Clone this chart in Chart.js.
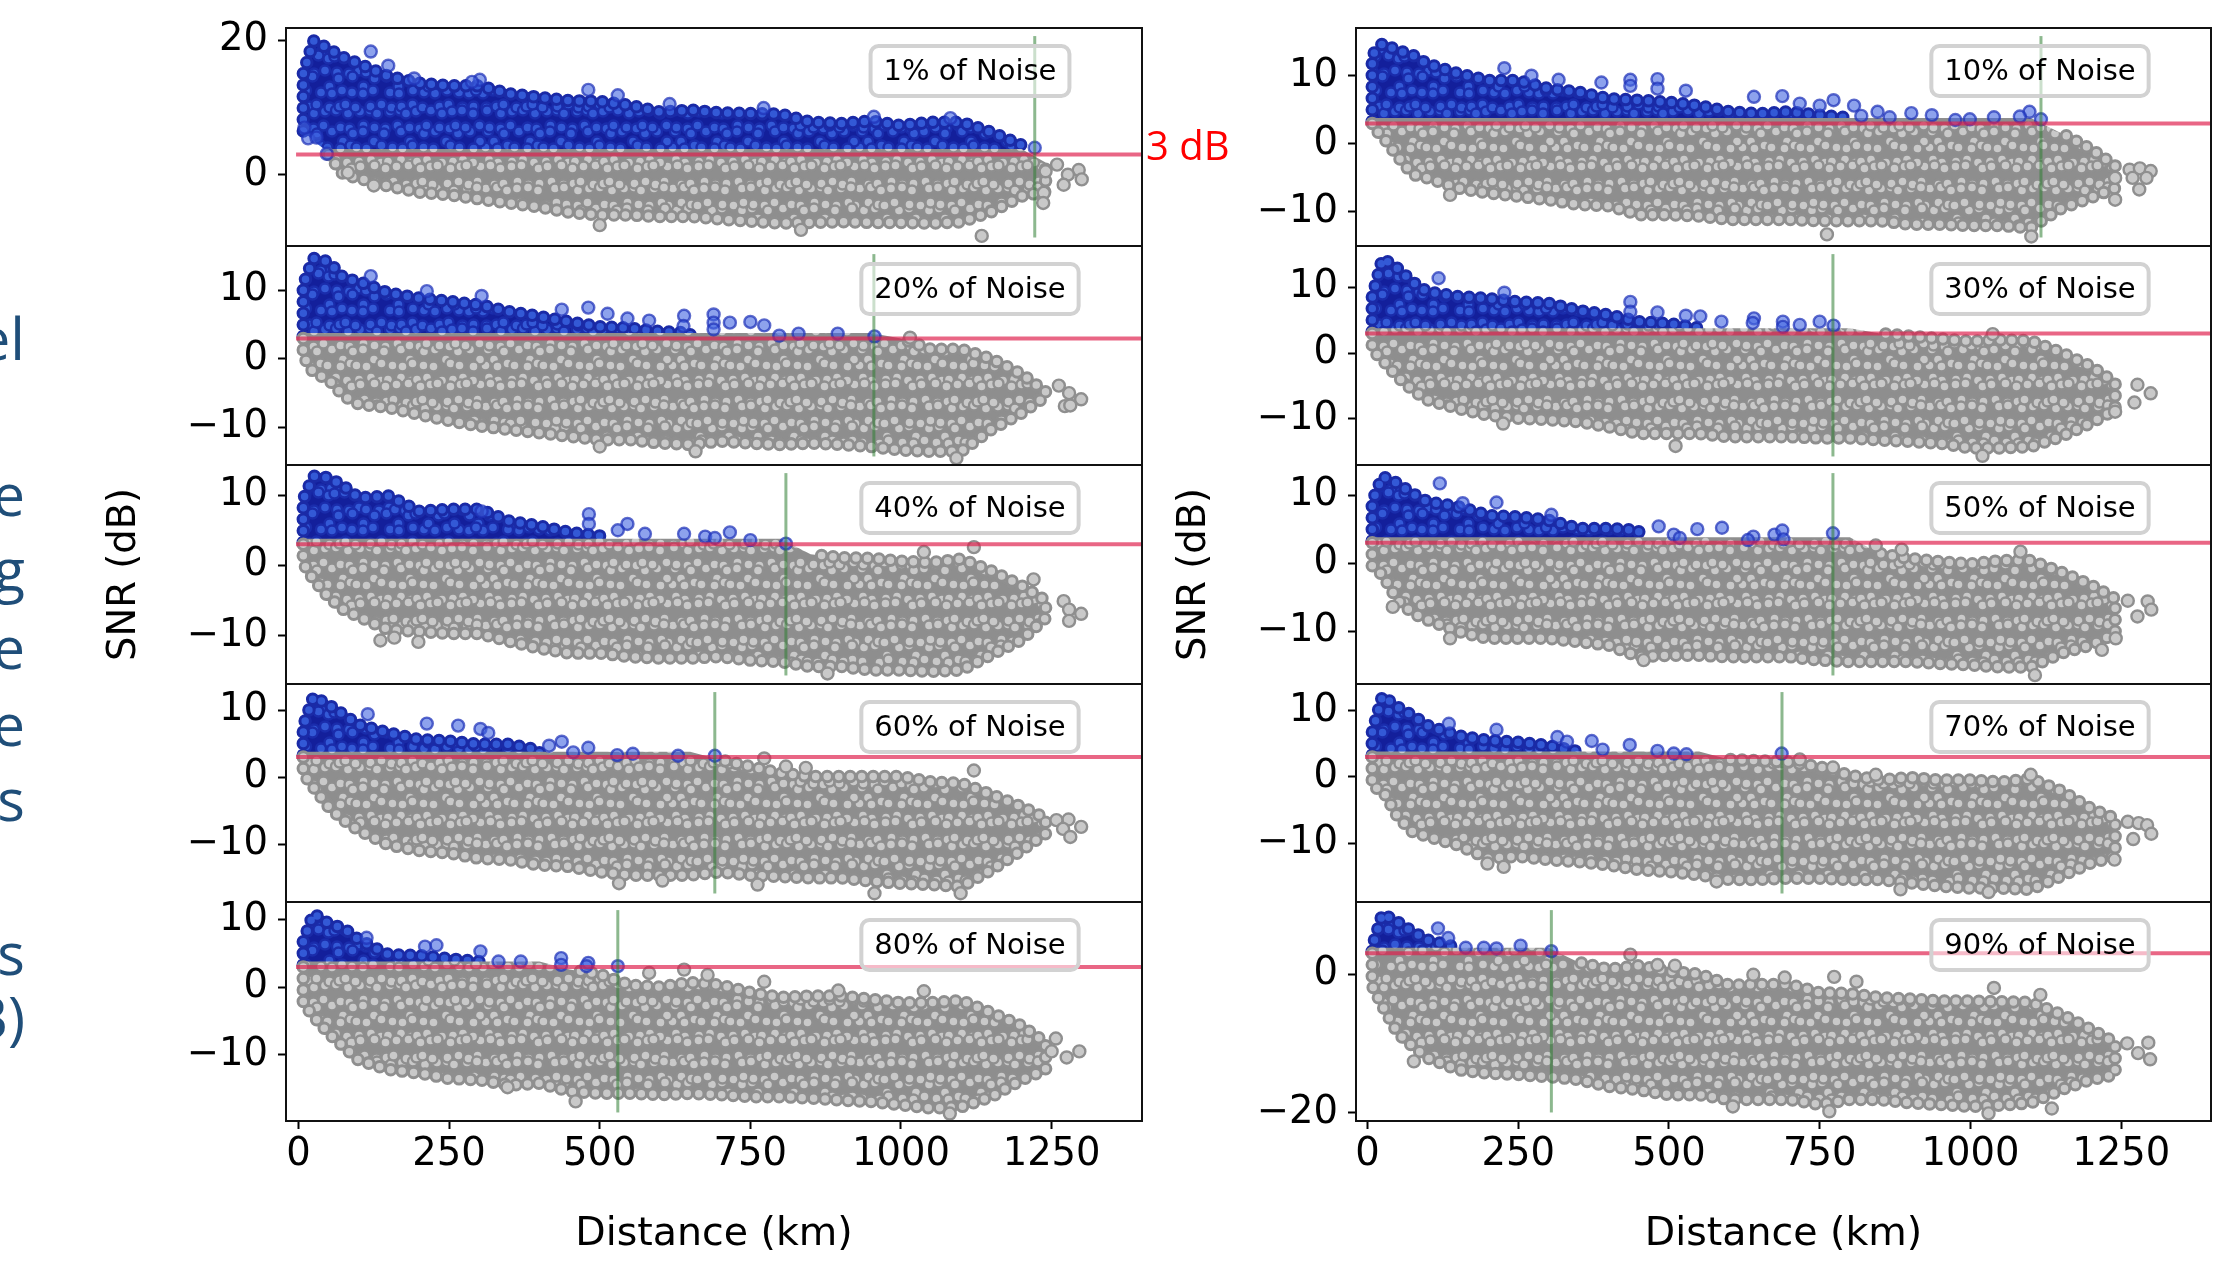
<!DOCTYPE html>
<html><head><meta charset="utf-8">
<style>
html,body{margin:0;padding:0;background:#fff;width:2225px;height:1272px;overflow:hidden}
canvas{position:absolute;display:block}
.frag{position:absolute;left:-175px;width:200px;text-align:right;font-family:"Open Sans";font-size:58px;line-height:70px;color:#1f4e79;white-space:nowrap}
</style>
<script src="https://cdn.jsdelivr.net/npm/chart.js@4"></script>
</head><body>
<div class="frag" style="top:303px">el</div>
<div class="frag" style="top:459px">e</div>
<div class="frag" style="top:534px">g</div>
<div class="frag" style="top:612px">e</div>
<div class="frag" style="top:689px">e</div>
<div class="frag" style="top:764px">s</div>
<div class="frag" style="top:918px">'s</div>
<div class="frag" style="top:982px">dB)</div>
<script>
const DISTANCE_TICKS=[0,250,500,750,1000,1250];
const THRESHOLD_DB=3;
const BLUE_FLOOR=3.3;
const KM=[8,25,50,75,100,150,200,250,300,350,400,450,500,550,600,650,700,750,800,850,900,950,1000,1050,1100,1150,1200,1240];
const KM_FROM_50=[50,75,100,150,200,250,300,350,400,450,500,550,600,650,700,750,800,850,900,950,1000,1050,1100,1150,1200,1240];

const labels=["1% of Noise","20% of Noise","40% of Noise","60% of Noise","80% of Noise","10% of Noise","30% of Noise","50% of Noise","70% of Noise","90% of Noise"];
const yMin=[-10.6,-15.5,-16.9,-18.6,-19.8,-15,-17,-17.7,-18.9,-21.2];
const yMax=[21.8,16.5,14.3,13.9,12.6,17,16.3,14.4,14,10.4];
const yTicks=[[0,20],[-10,0,10],[-10,0,10],[-10,0,10],[-10,0,10],[-10,0,10],[-10,0,10],[-10,0,10],[-10,0,10],[-20,0]];
const reachKm=[1222,955,809,691,530,1117,772,772,687.5,305];

const grayLow1=[3,0,-0.5,-1.7,-2.6,-3,-3.6,-4.2,-4.8,-5.6,-6,-6,-6.2,-6.2,-6.6,-6.9,-7.2,-7.1,-7,-7.1,-7.1,-7.2,-7,-5.5,-3.2,-2.5];
const grayHigh1=[3.8,3.8,3.8,3.8,3.8,3.8,3.8,3.8,3.8,3.8,3.8,3.8,3.8,3.8,3.8,3.8,3.8,3.8,3.8,3.8,3.8,3.8,3.8,3.8,3.8,1.8];
const blueHigh1=[15,19.9,18.7,17.4,16.5,14.6,13.6,13.2,13.2,12,11.5,11,10.9,10.3,9.3,9.6,9.2,9.1,9,7.8,7.6,8,7.3,7.8,7.8,6.3,4.4];
const blueLow1=[6.5,5];
const blueExtra1=[[120,18.3],[149,16.2],[192,14.3],[301,14.1],[288,13.8],[481,12.6],[530,11.8],[616,10.5],[16,5.4],[47,3.1],[772,9.9],[955,8.6],[1082,8.4],[1222,4],[10,7],[30,5.5]];
const grayExtra1=[[1259,1.5],[1295,0.7],[1300,-0.7],[1277,0],[1270,-1.5],[1237,-2.7],[1236,-4.2],[1134,-9.1],[834,-8.2],[500,-7.5],[125,-1.6],[82,0.3],[1240,0.5]];

const grayLow10=[2.5,1.1,-1.8,-4.5,-5,-6.5,-7.2,-7.7,-8.2,-8.9,-9.1,-10.4,-10.4,-10.6,-11.1,-11.1,-11.1,-11.3,-11.3,-11.3,-11.8,-11.8,-12,-12,-12.3,-9.5,-7.9,-6.5];
const grayHigh10=[3.8,3.8,3.8,3.8,3.8,3.8,3.8,3.8,3.8,3.8,3.8,3.8,3.8,3.8,3.8,3.8,3.8,3.8,3.8,3.8,3.8,3.8,3.8,3.8,3.8,1.6,-0.8,-3.2];
const blueHigh10=[13,14.7,13.7,13,11.7,10.3,9.3,9.3,8.1,7.6,6.6,6.4,6.1,5.6,4.7,4.4,4.7,4.2,3.8];
const blueExtra10=[[227,11.1],[272,10],[317,9.4],[388,9],[436,9.4],[436,8.5],[481,9.5],[481,8.1],[528,7.8],[641,6.9],[688,7],[717,5.9],[750,5.6],[773,6.4],[807,5.6],[846,4.7],[902,4.5],[936,4.2],[999,3.6],[1039,3.9],[1098,4.7],[1082,4],[1117,3.6],[975,3.5],[866,3.9],[819,4.1]];
const grayExtra10=[[1264,-3.8],[1281,-3.6],[1299,-4],[1292,-5],[1269,-5],[1280,-6.7],[1240,-8.2],[762,-13.3],[1101,-13.6],[137,-7.5],[1240,-5]];

const grayLow20=[0.4,-2,-3,-5.4,-6.6,-7.1,-8.1,-9,-9.8,-10.3,-10.8,-11.3,-11.8,-11.8,-12.3,-12.5,-12,-12.3,-12.5,-12.3,-12.5,-12.8,-13.3,-13.5,-13.5,-10.3,-7.9,-5.5];
const grayHigh20=[3.8,3.8,3.8,3.8,3.8,3.8,3.8,3.8,3.8,3.8,3.8,3.8,3.8,3.8,3.8,3.8,3.8,3.8,3.8,3.8,3.8,3.8,3,1.4,1.4,0,-2.2,-4.8];
const blueHigh20=[10.8,14.7,14.2,11.8,11.3,9.6,8.9,8.4,7.9,6.9,6.2,5.4,4.7,4.5,4,3.8];
const blueExtra20=[[120,12.1],[213,9.9],[304,9.2],[437,7.2],[481,7.5],[513,6.6],[546,5.9],[582,5.6],[640,6.3],[689,6.5],[689,5.3],[716,5.3],[750,5.4],[773,4.9],[798,3.4],[830,3.7],[895,3.7],[956,3.3],[689,4.3],[639,4.8]];
const grayExtra20=[[1262,-3.9],[1279,-5],[1299,-5.9],[1272,-6.9],[1281,-6.8],[1015,3.1],[659,-13.5],[500,-12.8],[1092,-14.5]];

const grayLow30=[0.5,-1,-3.6,-5.6,-7.1,-8.4,-9.4,-9.9,-10.1,-10.4,-11.2,-12.2,-12.2,-12.2,-12.7,-12.7,-12.7,-12.9,-12.9,-13.2,-13.4,-13.7,-14.4,-14.4,-14.2,-12.7,-10.6,-8.6];
const grayHigh30=[3.8,3.8,3.8,3.8,3.8,3.8,3.8,3.8,3.8,3.8,3.8,3.8,3.8,3.8,3.8,3.8,3.8,3.8,3.8,3,2.6,2.2,1.8,2,1.9,0.1,-2,-4.5];
const blueHigh30=[8.5,14.4,12.9,10.8,9.3,8.6,8.3,7.8,7.6,6.5,5.8,4.8,4.5,3.8];
const blueExtra30=[[436,7.8],[436,6.3],[481,6.2],[528,5.7],[552,5.6],[587,4.8],[641,5.3],[689,4.8],[717,4.3],[750,4.8],[773,4.2],[639,4.6],[689,4],[118,11.4],[227,9.2]];
const grayExtra30=[[1277,-4.8],[1299,-6.1],[1272,-7.5],[1240,-8.9],[511,-14.1],[225,-10.7],[1020,-15.6],[1037,2.9]];

const grayLow40=[0.3,-2,-4.5,-6.3,-7.3,-9.2,-9.4,-9.7,-9.7,-10.8,-11.8,-12.5,-12.5,-13,-13.2,-13.2,-13,-13.5,-13.7,-14.4,-14.4,-14.9,-14.9,-15.1,-14.9,-12.7,-10.6,-7.5];
const grayHigh40=[3.8,3.8,3.8,3.8,3.8,3.8,3.8,3.8,3.8,3.8,3.8,3.8,3.8,3.8,3.8,3.8,3.8,3.8,3.8,1.6,1.1,1,0.6,0.4,0.9,-0.8,-2.9,-5];
const blueHigh40=[9.4,12.7,12.5,11.3,9.6,9.9,7.7,8,8,6.3,5.6,4.7,4.2];
const blueExtra40=[[304,7.7],[482,7.3],[482,5.9],[546,5.9],[530,5],[575,4.5],[640,4.5],[675,4.1],[691,3.9],[716,4.7],[750,3.6],[809,3.1]];
const grayExtra40=[[1270,-5.1],[1279,-6.3],[1299,-6.9],[1279,-7.9],[878,-15.4],[136,-10.7],[159,-10.3],[199,-10.9],[1121,2.6],[1038,1.9],[1220,-2]];

const grayLow50=[-0.5,-1.7,-5.4,-7.3,-8.3,-10,-11,-11,-11,-11.5,-12,-13.7,-13.5,-13.5,-13.7,-13.7,-13.7,-14.2,-14.4,-14.4,-14.4,-14.7,-14.9,-15.2,-15.2,-13.2,-12,-10.3];
const grayHigh50=[3.8,3.8,3.8,3.8,3.8,3.8,3.8,3.8,3.8,3.8,3.8,3.8,3.8,3.8,3.8,3.8,3.8,3.8,3.8,1.4,0.7,0.2,-0.1,0.4,0.4,-1.3,-3.2,-5.2];
const blueHigh50=[9,12.7,11.7,10.2,9,8.3,7,6.8,6.3,5.1,5.1,4.8];
const blueExtra50=[[120,11.7],[214,8.9],[158,8.8],[305,7.1],[483,5.4],[547,5],[588,5.2],[508,4.2],[640,3.9],[675,4.2],[688,4.8],[690,3.5],[772,4.4],[518,3.7],[631,3.4]];
const grayExtra50=[[1261,-5.5],[1294,-5.6],[1300,-6.8],[1277,-7.8],[1241,-11],[1218,-12.7],[137,-11],[42,-6.4],[886,2],[843,2.6],[1083,1.7],[458,-14.2],[1107,-16.4]];

const grayLow60=[0.5,-1.5,-4.4,-6.4,-7.9,-10.1,-10.9,-11.3,-12.1,-12.3,-13.1,-13.3,-14.1,-14.6,-14.6,-14.6,-14.1,-14.6,-14.8,-15,-15,-15.5,-15.8,-16,-16.3,-13.8,-10.9,-8.4];
const grayHigh60=[3.8,3.8,3.8,3.8,3.8,3.8,3.8,3.8,3.8,3.8,3.8,3.8,3.8,3.8,3.8,3.8,2.6,1.6,0.6,0.1,0.1,0.1,0.1,-0.7,-0.9,-2.6,-4.4,-6.1];
const blueHigh60=[7.6,12,10.8,9.3,7.8,6.6,5.6,5.4,4.9,4.9,4];
const blueExtra60=[[115,9.4],[213,8],[265,7.7],[302,7.2],[315,6.6],[437,5.3],[416,4.7],[481,4.4],[456,3.7],[529,3.3],[555,3.5],[630,3.2],[691,3.2]];
const grayExtra60=[[1278,-6.3],[1258,-6.4],[1299,-7.4],[1269,-7.7],[1281,-8.9],[773,2.8],[809,1.6],[842,1.4],[1121,1],[956,-17.3],[532,-15.8],[604,-15.4],[1099,-17.3],[762,-16]];

const grayLow70=[-1.5,-2,-6,-8.3,-9,-10.3,-12.3,-12,-12.5,-12.8,-13.3,-14,-14.3,-14.8,-15.5,-15.5,-15.3,-15.3,-15.5,-15.5,-16,-16.5,-16.8,-16.8,-17,-15,-13,-12];
const grayHigh70=[3.8,3.8,3.8,3.8,3.8,3.8,3.8,3.8,3.8,3.8,3.8,3.8,3.8,3.8,2.6,2.4,2.2,1.5,0.2,-0.5,-0.1,-0.5,-0.5,-0.8,-0.3,-2.1,-4.8,-6.3];
const blueHigh70=[6.7,12.2,10.5,9.2,7.7,6.2,5.5,5.2,4.7,3.8];
const blueExtra70=[[135,8],[214,7.1],[315,6],[331,5.3],[372,5.4],[435,4.8],[390,4.1],[481,3.9],[508,3.5],[529,3.4],[687,3.5]];
const grayExtra70=[[1261,-6.8],[1279,-7],[1293,-7.3],[1300,-8.6],[1270,-9.4],[1239,-12.5],[717,2.6],[772,1.4],[843,0.3],[1100,0.3],[884,-17],[199,-13.1],[226,-13.6],[1030,-17.4],[579,-15.8]];

const grayLow80=[-2.4,-4.3,-6.8,-8.8,-10.8,-12.2,-12.7,-13.5,-13.7,-14.5,-14.2,-15.4,-15.7,-15.7,-15.9,-15.7,-15.9,-16.2,-16.2,-16.4,-16.7,-16.9,-17.4,-17.9,-17.7,-16.2,-13.7,-12.2];
const grayHigh80=[3.8,3.8,3.8,3.8,3.8,3.8,3.8,3.8,3.8,3.8,3.8,2.6,1.9,0.3,0,0.7,0.3,-0.8,-1.5,-1.3,-1.3,-1.8,-2.3,-2.3,-2,-3.8,-5.7,-8.2];
const blueHigh80=[6.7,10.9,9.4,8.7,7,4.8,4.7,4.2,3.8];
const blueExtra80=[[113,7.3],[210,6],[229,6.2],[302,5.3],[332,3.8],[369,3.8],[436,4.3],[481,3.6],[530,3.1],[436,3.3],[478,3.1]];
const grayExtra80=[[1257,-7.6],[1296,-9.5],[1275,-10.4],[1250,-9.5],[582,2.1],[640,2.6],[679,1.8],[773,0.8],[1038,-0.6],[460,-16.9],[1081,-18.7],[347,-14.8],[896,-0.5]];

const grayLow90=[-1.7,-4.6,-8.5,-10.4,-12.1,-13.8,-14.3,-14.5,-14.8,-15.2,-16.2,-16.7,-17.4,-17.4,-18.1,-18.1,-18.1,-18.8,-18.1,-18.1,-18.6,-18.8,-19.1,-18.9,-18.6,-16.7,-15.2,-14.5];
const grayHigh90=[3.8,3.8,3.8,3.8,3.8,3.8,3.8,3.8,3.8,1.7,0.7,1.2,0.4,0,-1.6,-1.5,-1.5,-2.7,-2.8,-3.4,-3.6,-3.9,-3.9,-4,-4.1,-5.8,-8,-9.9];
const blueHigh90=[3.9,8.7,7.5,6.1,4.9,3.8];
const blueExtra90=[[117,6.6],[134,5.2],[163,3.8],[193,3.8],[214,3.7],[254,4.1],[305,3.3]];
const grayExtra90=[[436,2.8],[481,1.3],[510,1.2],[640,-0.1],[692,-0.5],[774,-0.4],[811,-1.1],[1039,-2],[1116,-3],[1260,-10],[1295,-9.9],[1278,-11.4],[1298,-12.3],[77,-12.6],[766,-19.8],[1030,-20.1],[1135,-19.4],[606,-19.1]];

const grayKm=[KM_FROM_50,KM,KM,KM,KM,KM,KM,KM,KM,KM];
const grayLows=[grayLow1,grayLow20,grayLow40,grayLow60,grayLow80,grayLow10,grayLow30,grayLow50,grayLow70,grayLow90];
const grayHighs=[grayHigh1,grayHigh20,grayHigh40,grayHigh60,grayHigh80,grayHigh10,grayHigh30,grayHigh50,grayHigh70,grayHigh90];
const blueHighs=[blueHigh1,blueHigh20,blueHigh40,blueHigh60,blueHigh80,blueHigh10,blueHigh30,blueHigh50,blueHigh70,blueHigh90];
const blueLows=[blueLow1,[],[],[],[],[],[],[],[],[]];
const blueExtras=[blueExtra1,blueExtra20,blueExtra40,blueExtra60,blueExtra80,blueExtra10,blueExtra30,blueExtra50,blueExtra70,blueExtra90];
const grayExtras=[grayExtra1,grayExtra20,grayExtra40,grayExtra60,grayExtra80,grayExtra10,grayExtra30,grayExtra50,grayExtra70,grayExtra90];

/* layout (style only) */
const TOPS=[28,246,465,684,902], BOTTOM=1121;
const COLS=[{left:102,plotLeft:286,width:1140,padRight:100,xMin:-20.7,xMax:1400,boxCx:970},
            {left:1172,plotLeft:1356,width:1053,padRight:14,xMin:-19,xMax:1399,boxCx:2040}];
const PAD=40, X_AXIS_H=137;
const FONT="'DejaVu Sans'";

/* marker texture: fixed offsets, purely a fill style for the dense clouds */
const JX=[-4,1,3,-1,4,-3,0,2,-4,3,-1,5,-3,2,0,-5,3,-2,4];
const JY=[1,-4,2,-3,0,4,-1,3,-5,1,3,-3,0,5,-2];
function texture(base,ring,core,r){
  const S=187,N=17,c=document.createElement('canvas');c.width=c.height=S;
  const g=c.getContext('2d');g.fillStyle=base;g.fillRect(0,0,S,S);
  const step=S/N;
  for(let a=0;a<N;a++)for(let b=0;b<N;b++){
    const x=(a+.5)*step+(b%2?step*.5:0)+JX[(a*7+b*3)%JX.length],y=(b+.5)*step+JY[(a*5+b*11)%JY.length];
    for(const dx of [-S,0,S])for(const dy of [-S,0,S]){
      g.beginPath();g.arc(x+dx,y+dy,r,0,Math.PI*2);g.fillStyle=core;g.fill();g.lineWidth=2.4;g.strokeStyle=ring;g.stroke();
    }
  }
  return c;
}
const tileGray=texture('#8e8e8e','#8f8f8f','#c9c9c9',5);
const tileBlue=texture('#131f9b','#1a2cab','#3359d6',5);

const pts=(xs,ys)=>ys.map((y,i)=>({x:xs[i],y}));
const pairs=a=>a.map(([x,y])=>({x,y}));

const panelPlugin={id:'panelFrame',
  afterDatasetsDraw(chart,args,o){
    const c=chart.ctx,a=chart.chartArea;c.save();
    c.font="29px "+FONT;
    const tw=c.measureText(o.label).width,bw=tw+26,bh=50,bx=o.boxCx-o.canvasLeft-bw/2,by=a.top+18;
    c.beginPath();c.roundRect(bx,by,bw,bh,8);
    c.fillStyle='rgba(255,255,255,0.55)';c.fill();
    c.lineWidth=4;c.strokeStyle='#d2d2d2';c.stroke();
    c.fillStyle='#000';c.textAlign='center';c.textBaseline='middle';
    c.fillText(o.label,bx+bw/2,by+bh/2+1);
    c.lineWidth=2;c.strokeStyle='#111';c.strokeRect(a.left,a.top,a.right-a.left,a.bottom-a.top);
    if(o.note){c.font="40px 'Open Sans'";c.fillStyle='#ff0000';c.textAlign='left';c.fillText(o.note,a.right+4,149-o.canvasTop);}
    c.restore();
  }};

labels.forEach((label,i)=>{
  const colIdx=i<5?0:1,row=i%5,col=COLS[colIdx];
  const top=TOPS[row],bottom=row<4?TOPS[row+1]:BOTTOM,last=row===4;
  const cv=document.createElement('canvas');
  const cTop=top-PAD,cH=bottom-top+PAD*2+(last?X_AXIS_H:0);
  cv.width=col.width;cv.height=cH;
  cv.style.cssText=`left:${col.left}px;top:${cTop}px;width:${col.width}px;height:${cH}px`;
  document.body.appendChild(cv);

  const kmG=grayKm[i],lo=grayLows[i],hi=grayHighs[i],bh=blueHighs[i],bl=blueLows[i];
  const kmB=KM.slice(0,bh.length);
  const floor=kmB.map((k,j)=>bl[j]!==undefined?bl[j]:BLUE_FLOOR);
  const patGray=cv.getContext('2d').createPattern(tileGray,'repeat');
  const patBlue=cv.getContext('2d').createPattern(tileBlue,'repeat');

  /* edge of the clouds: outlined markers along the read envelopes */
  const grayEdge=[{x:kmG[0],y:Math.min(hi[0],3)},...pts(kmG,lo)];
  for(let j=hi.length-1;j>=0&&hi[j]<3.5;j--)grayEdge.push({x:kmG[j],y:hi[j]});
  const blueEdge=[{x:kmB[0],y:floor[0]},...pts(kmB,bh),{x:kmB[kmB.length-1],y:BLUE_FLOOR}];
  const dots=(data,color,w,order)=>({data,order,borderColor:color,borderWidth:w,borderDash:[0,11.5],borderCapStyle:'round',borderJoinStyle:'round',pointRadius:0,fill:false,tension:0});

  const range=yMax[i]-yMin[i];
  const datasets=[
    {data:pts(kmB,bh),order:90,pointRadius:0,borderWidth:0,backgroundColor:patBlue,fill:{target:1}},
    {data:pts(kmB,floor),order:91,pointRadius:0,borderWidth:0,fill:false},
    dots(blueEdge,'#1a2aa6',13.5,82),
    dots(blueEdge,'#3359d6',7.5,81),
    {data:pts(kmG,hi),order:70,pointRadius:0,borderWidth:0,backgroundColor:patGray,fill:{target:5}},
    {data:pts(kmG,lo),order:71,pointRadius:0,borderWidth:0,fill:false},
    dots(grayEdge,'#8f8f8f',13.5,62),
    dots(grayEdge,'#c9c9c9',7.5,61),
    {data:pairs(grayExtras[i]),order:58,showLine:false,pointRadius:6,pointBorderWidth:2.4,pointBackgroundColor:'#c9c9c9',pointBorderColor:'#8f8f8f'},
    {data:pairs(blueExtras[i]),order:50,showLine:false,pointRadius:6,pointBorderWidth:2.4,pointBackgroundColor:'rgba(65,100,225,0.6)',pointBorderColor:'rgba(30,50,185,0.72)'},
    {data:[{x:-4,y:THRESHOLD_DB},{x:col.xMax,y:THRESHOLD_DB}],order:40,pointRadius:0,borderWidth:4,borderColor:'rgba(222,30,75,0.68)',fill:false},
    {data:[{x:reachKm[i],y:yMin[i]+range*.039},{x:reachKm[i],y:yMax[i]-range*.037}],order:30,pointRadius:0,borderWidth:3,borderColor:'rgba(46,125,50,0.55)',fill:false}
  ];

  new Chart(cv,{type:'line',data:{datasets},plugins:[panelPlugin],
    options:{responsive:false,animation:false,devicePixelRatio:1,
      layout:{autoPadding:false,padding:{top:PAD,bottom:PAD,right:col.padRight,left:0}},
      plugins:{legend:{display:false},tooltip:{enabled:false},
        panelFrame:{label,boxCx:col.boxCx,canvasLeft:col.left,canvasTop:cTop,note:i===0?'3 dB':null}},
      scales:{
        x:{type:'linear',min:col.xMin,max:col.xMax,display:last,
           afterBuildTicks:s=>{s.ticks=DISTANCE_TICKS.map(value=>({value}))},
           afterFit:s=>{s.height=last?X_AXIS_H:0},
           border:{display:false},
           grid:{drawOnChartArea:false,drawTicks:true,tickLength:8,tickWidth:2,tickColor:'#000'},
           ticks:{color:'#000',padding:3,maxRotation:0,autoSkip:false,font:{family:FONT,size:38.5},callback:v=>String(v)},
           title:{display:last,text:'Distance (km)',color:'#000',padding:0,font:{family:FONT,size:39.5}}},
        y:{type:'linear',min:yMin[i],max:yMax[i],
           afterBuildTicks:s=>{s.ticks=yTicks[i].map(value=>({value}))},
           afterFit:s=>{s.width=col.plotLeft-col.left},
           border:{display:false},
           grid:{drawOnChartArea:false,drawTicks:true,tickLength:8,tickWidth:2,tickColor:'#000'},
           ticks:{color:'#000',padding:10,autoSkip:false,font:{family:FONT,size:38.5},callback:v=>(v<0?'\u2212'+(-v):String(v))},
           title:{display:row===2,text:'SNR (dB)',color:'#000',padding:0,font:{family:FONT,size:38.5}}}
      }}});
});
</script>
</body></html>
